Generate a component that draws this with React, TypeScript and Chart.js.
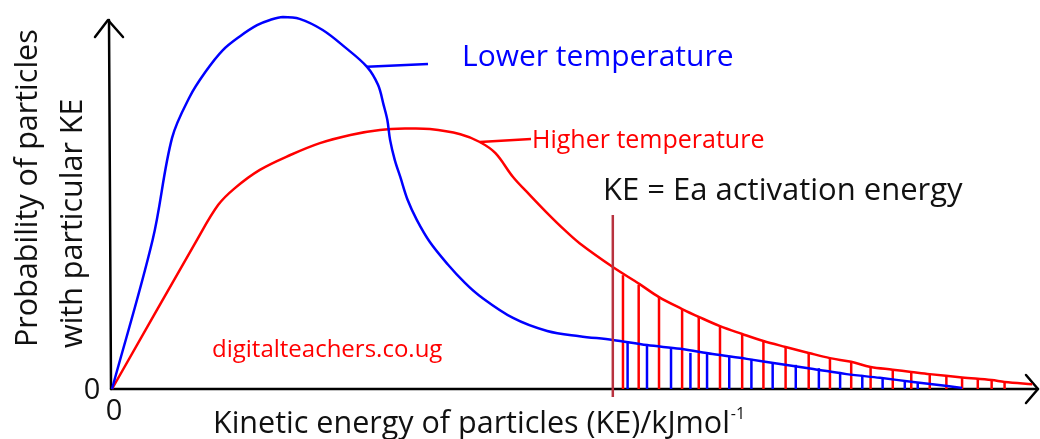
import React, { useEffect, useRef } from 'react';
import { Chart, registerables } from 'chart.js';

Chart.register(...registerables);

// Kinetic energy (arbitrary units 0..100) and probability (0..100)
const lowerKE = [0, 4.4, 6.5, 8.4, 10.1, 12.0, 13.9, 15.7, 17.1, 18.5, 20.3, 22.8, 25.2, 27.6, 28.8, 29.4, 29.8, 30.1, 30.6, 31.2, 32.0, 33.0, 34.4, 36.3, 38.2, 39.8, 43.4, 47.1, 50.6, 54.2, 57.9, 61.5, 65.0, 68.7, 72.3, 75.9, 79.5, 83.1, 86.7, 90.4, 92.0];
const lowerProb = [0, 40.1, 67.5, 78.5, 85.2, 91.1, 94.9, 97.8, 99.2, 100, 99.5, 96.5, 91.9, 86.6, 81.7, 76.3, 72.3, 66.9, 61.6, 57.0, 50.8, 45.4, 39.5, 33.6, 28.5, 25.0, 19.1, 15.6, 14.2, 13.2, 11.8, 10.8, 9.4, 8.1, 6.7, 5.4, 4.0, 3.0, 1.9, 0.8, 0.3];

const higherKE = [0, 9.2, 11.5, 13.3, 16.0, 19.3, 22.5, 25.8, 29.0, 31.7, 34.4, 37.7, 39.8, 41.5, 43.4, 45.2, 47.1, 49.0, 50.6, 54.2, 57.1, 59.2, 61.7, 63.5, 65.8, 68.2, 70.5, 72.9, 75.4, 77.7, 80.0, 82.1, 84.5, 86.5, 88.5, 92.0, 95.2, 96.6, 99.6];
const higherProb = [0, 40.1, 49.5, 54.0, 58.9, 62.9, 66.1, 68.3, 69.6, 70.0, 69.9, 68.5, 66.4, 63.4, 57.0, 52.2, 47.3, 42.7, 39.2, 32.8, 28.2, 24.7, 21.5, 19.4, 16.9, 14.8, 12.9, 11.3, 9.7, 8.3, 7.3, 5.9, 5.2, 4.6, 4.0, 3.1, 2.4, 1.9, 1.3];

// Hatching: particles with KE above Ea
const hatchHighKE = [55.3, 57.0, 59.2, 61.7, 63.5, 65.8, 68.2, 70.5, 72.9, 75.4, 77.7, 80.0, 82.1, 84.5, 86.5, 88.5, 90.3, 92.0, 93.7, 95.2, 96.6];
const hatchHighProb = [30.6, 28.0, 24.7, 21.5, 19.4, 16.9, 14.8, 12.9, 11.3, 9.7, 8.3, 7.3, 5.9, 5.1, 4.6, 4.0, 3.5, 3.0, 2.7, 2.4, 1.9];
const hatchLowKE = [55.8, 57.9, 60.5, 62.6, 64.4, 66.8, 69.2, 71.5, 74.0, 76.5, 78.8, 81.2, 83.4, 85.8, 87.2];
const hatchLowProb = [12.6, 11.8, 11.0, 9.7, 9.4, 8.6, 8.1, 7.0, 6.5, 5.6, 4.6, 3.8, 3.0, 1.9, 1.6];

const activationKE = 54.2;

const lowerLabel = 'Lower temperature';
const higherLabel = 'Higher temperature';
const eaLabel = 'KE = Ea activation energy';
const watermark = 'digitalteachers.co.ug';
const xTitle = 'Kinetic energy of particles (KE)/kJmol';
const xTitleSup = '-1';
const yTitleLines = ['Probability of particles', 'with particular KE'];
const zeroLabel = '0';

const BLUE = '#0000ff';
const RED = '#ff0000';
const FONT = '"Open Sans", "DejaVu Sans", sans-serif';

const toPoints = (xs: number[], ys: number[]) => xs.map((x, i) => ({ x, y: ys[i] }));

const decorPlugin = {
  id: 'decor',
  beforeDatasetsDraw(chart: any) {
    const { ctx, scales } = chart;
    const xs = scales.x;
    const ys = scales.y;
    const x0 = xs.getPixelForValue(0) - 1;
    const y0 = ys.getPixelForValue(0);
    ctx.save();
    ctx.strokeStyle = '#000';
    ctx.lineWidth = 2.5;
    ctx.lineCap = 'round';
    ctx.lineJoin = 'round';
    // y axis
    const topY = 20;
    ctx.beginPath();
    ctx.moveTo(x0, y0);
    ctx.lineTo(x0 - 2, topY);
    ctx.stroke();
    ctx.beginPath();
    ctx.moveTo(x0 - 16, topY + 17);
    ctx.lineTo(x0 - 3, topY);
    ctx.lineTo(x0 + 12, topY + 17);
    ctx.stroke();
    // x axis
    const rightX = 1038;
    ctx.beginPath();
    ctx.moveTo(x0, y0);
    ctx.lineTo(rightX, y0);
    ctx.stroke();
    ctx.beginPath();
    ctx.moveTo(rightX - 12, y0 - 14);
    ctx.lineTo(rightX, y0);
    ctx.lineTo(rightX - 12, y0 + 14);
    ctx.stroke();
    ctx.restore();
  },
  afterDatasetsDraw(chart: any) {
    const { ctx, scales } = chart;
    const xs = scales.x;
    const ys = scales.y;
    ctx.save();
    // activation energy line
    const ex = xs.getPixelForValue(activationKE);
    ctx.strokeStyle = '#b8323f';
    ctx.lineWidth = 2.5;
    ctx.beginPath();
    ctx.moveTo(ex, 215);
    ctx.lineTo(ex, ys.getPixelForValue(0) + 8);
    ctx.stroke();

    // leader lines
    ctx.lineWidth = 2.5;
    ctx.strokeStyle = BLUE;
    ctx.beginPath();
    ctx.moveTo(xs.getPixelForValue(27.6), ys.getPixelForValue(86.6));
    ctx.lineTo(428, 64);
    ctx.stroke();
    ctx.strokeStyle = RED;
    ctx.beginPath();
    ctx.moveTo(xs.getPixelForValue(39.8), ys.getPixelForValue(66.4));
    ctx.lineTo(531, 139);
    ctx.stroke();

    // texts
    ctx.textBaseline = 'alphabetic';
    ctx.textAlign = 'left';
    ctx.fillStyle = BLUE;
    ctx.font = `30px ${FONT}`;
    ctx.fillText(lowerLabel, 462, 66);

    ctx.fillStyle = RED;
    ctx.font = `25px ${FONT}`;
    ctx.fillText(higherLabel, 532, 148);

    ctx.fillStyle = '#111';
    ctx.font = `31px ${FONT}`;
    ctx.fillText(eaLabel, 603, 200);

    ctx.fillStyle = RED;
    ctx.font = `24px ${FONT}`;
    ctx.fillText(watermark, 212, 357);

    // x title
    ctx.fillStyle = '#111';
    ctx.font = `30.5px ${FONT}`;
    ctx.fillText(xTitle, 213, 433);
    const w = ctx.measureText(xTitle).width;
    ctx.font = `16px ${FONT}`;
    ctx.fillText(xTitleSup, 213 + w + 1, 419);

    // zeros
    ctx.font = `29px ${FONT}`;
    ctx.textAlign = 'center';
    ctx.fillText(zeroLabel, 92, 399);
    ctx.fillText(zeroLabel, 114, 420);

    // y title
    ctx.font = `30.5px ${FONT}`;
    ctx.textAlign = 'left';
    ctx.save();
    ctx.translate(37, 347);
    ctx.rotate(-Math.PI / 2);
    ctx.fillText(yTitleLines[0], 0, 0);
    ctx.restore();
    ctx.save();
    ctx.translate(82, 348);
    ctx.rotate(-Math.PI / 2);
    ctx.fillText(yTitleLines[1], 0, 0);
    ctx.restore();

    ctx.restore();
  },
};

export default function App() {
  const ref = useRef<HTMLCanvasElement | null>(null);

  useEffect(() => {
    if (!ref.current) return;
    const chart = new Chart(ref.current, {
      type: 'line',
      data: {
        datasets: [
          {
            label: lowerLabel,
            data: toPoints(lowerKE, lowerProb),
            borderColor: BLUE,
            borderWidth: 2.5,
            pointRadius: 0,
            tension: 0.35,
            fill: false,
            clip: false,
          } as any,
          {
            label: higherLabel,
            data: toPoints(higherKE, higherProb),
            borderColor: RED,
            borderWidth: 2.5,
            pointRadius: 0,
            tension: 0.35,
            fill: false,
            clip: false,
          } as any,
          {
            type: 'bar',
            label: 'hatch high',
            data: toPoints(hatchHighKE, hatchHighProb),
            backgroundColor: RED,
            borderWidth: 0,
            grouped: false,
            maxBarThickness: 2.5,
          } as any,
          {
            type: 'bar',
            label: 'hatch low',
            data: toPoints(hatchLowKE, hatchLowProb),
            backgroundColor: BLUE,
            borderWidth: 0,
            grouped: false,
            maxBarThickness: 2.5,
          } as any,
        ],
      },
      options: {
        animation: false,
        responsive: false,
        layout: { padding: { left: 112, right: 4, top: 17, bottom: 50 } },
        scales: {
          x: { type: 'linear', min: 0, max: 100, display: false, offset: false },
          y: { type: 'linear', min: 0, max: 100, display: false },
        },
        plugins: {
          legend: { display: false },
          tooltip: { enabled: false },
          title: { display: false },
        },
      },
      plugins: [decorPlugin],
    });
    return () => chart.destroy();
  }, []);

  return (
    <div style={{ position: 'absolute', left: 0, top: 0, width: 1040, height: 439, background: '#fff' }}>
      <canvas ref={ref} width={1040} height={439} style={{ display: 'block', width: 1040, height: 439 }} />
    </div>
  );
}
